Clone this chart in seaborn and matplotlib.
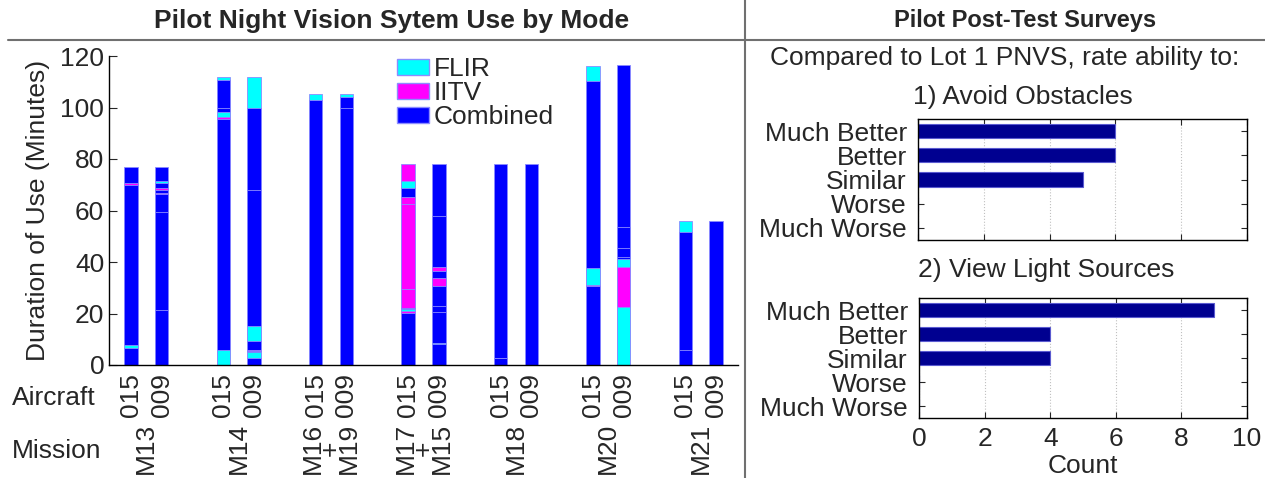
import seaborn as sns
import matplotlib.pyplot as plt
import matplotlib.transforms as mtransforms
from matplotlib.patches import Patch
from matplotlib.lines import Line2D
import pandas as pd

sns.set_style("white")
plt.rcParams['font.family'] = ['Liberation Sans', 'DejaVu Sans']
plt.rcParams['axes.edgecolor'] = 'black'
plt.rcParams['axes.linewidth'] = 1.0

# ---- left chart data: night vision mode use per sortie ----
modes = ['FLIR', 'IITV', 'Combined']
mode_colors = {'FLIR': '#00FFFF', 'IITV': '#FF00FF', 'Combined': '#0000FF'}

missions = ['M13', 'M14', 'M16\n+\nM19', 'M17\n+\nM15', 'M18', 'M20', 'M21']
aircraft = ['015', '009']

# segments of each bar from the bottom up: (mode, minutes)
m13_015 = [('Combined', 6.7), ('FLIR', 0.9), ('Combined', 62.3), ('IITV', 0.7), ('Combined', 6.4)]
m13_009 = [('Combined', 21.4), ('Combined', 37.9), ('Combined', 7.0), ('IITV', 0.5), ('Combined', 1.3),
           ('IITV', 0.5), ('Combined', 1.9), ('FLIR', 0.8), ('Combined', 5.5)]
m14_015 = [('FLIR', 5.8), ('Combined', 89.9), ('IITV', 0.5), ('FLIR', 1.9), ('Combined', 1.8),
           ('Combined', 10.8), ('FLIR', 1.3)]
m14_009 = [('Combined', 2.6), ('FLIR', 2.3), ('Combined', 0.5), ('IITV', 0.4), ('Combined', 3.6),
           ('FLIR', 5.7), ('Combined', 52.9), ('Combined', 31.7), ('FLIR', 12.3)]
m16_015 = [('Combined', 102.9), ('FLIR', 2.3)]
m19_009 = [('Combined', 99.7), ('Combined', 4.5), ('FLIR', 1.0)]
m17_015 = [('Combined', 20.3), ('IITV', 0.7), ('FLIR', 0.6), ('Combined', 0.7), ('IITV', 7.1),
           ('IITV', 33.3), ('IITV', 2.7), ('Combined', 3.5), ('FLIR', 2.6), ('IITV', 6.4)]
m15_009 = [('Combined', 8.0), ('FLIR', 0.5), ('Combined', 12.2), ('Combined', 2.2), ('Combined', 7.8),
           ('IITV', 2.9), ('Combined', 3.0), ('IITV', 1.6), ('Combined', 19.7), ('Combined', 20.0)]
m18_015 = [('Combined', 2.6), ('IITV', 0.3), ('Combined', 75.2)]
m18_009 = [('Combined', 78.1)]
m20_015 = [('Combined', 30.7), ('IITV', 0.4), ('FLIR', 6.4), ('Combined', 72.9), ('FLIR', 5.8)]
m20_009 = [('FLIR', 22.6), ('IITV', 15.3), ('FLIR', 3.3), ('Combined', 0.9), ('Combined', 3.5),
           ('Combined', 8.1), ('Combined', 62.8)]
m21_015 = [('Combined', 5.8), ('Combined', 45.7), ('FLIR', 4.4)]
m21_009 = [('Combined', 55.9)]

bar_segments = [m13_015, m13_009, m14_015, m14_009, m16_015, m19_009, m17_015, m15_009,
                m18_015, m18_009, m20_015, m20_009, m21_015, m21_009]

# ---- right chart data: survey counts ----
ratings = ['Much Better', 'Better', 'Similar', 'Worse', 'Much Worse']
avoid_counts = [6, 6, 5, 0, 0]
light_counts = [9, 4, 4, 0, 0]

# slots: two bars per mission with an empty slot between missions
slot_order = []
for g in range(len(missions)):
    slot_order += [f'{g}-{a}' for a in range(len(aircraft))]
    if g < len(missions) - 1:
        slot_order.append(f'gap{g}')

rows = []
for i, segs in enumerate(bar_segments):
    g, a = divmod(i, 2)
    top = 0
    tops = []
    for mode, dur in segs:
        top += dur
        tops.append((mode, top))
    # rank 0 = highest segment, drawn first, shorter ones drawn over it
    for rank, (mode, t) in enumerate(reversed(tops)):
        rows.append({'slot': f'{g}-{a}', 'mode': mode, 'top': t, 'rank': rank})
df = pd.DataFrame(rows)

fig = plt.figure(figsize=(12.65, 4.78), dpi=100)
W, H = 1265, 478

ax = fig.add_axes([109 / W, 1 - 365 / H, (738 - 109) / W, (365 - 56) / H])
for r in sorted(df['rank'].unique()):
    sns.barplot(data=df[df['rank'] == r], x='slot', y='top', hue='mode', order=slot_order,
                hue_order=modes, palette=mode_colors, dodge=False, width=0.44, saturation=1,
                errorbar=None, legend=False, edgecolor='#8c8cff', linewidth=0.6, ax=ax)

ax.set_ylim(0, 120)
ax.set_yticks(range(0, 121, 20))
ax.set_xlim(-0.71, 19.71)
bar_pos = [slot_order.index(f'{g}-{a}') for g in range(len(missions)) for a in range(2)]
ax.set_xticks(bar_pos)
ax.set_xticklabels(aircraft * len(missions), rotation=90, fontsize=19)
ax.tick_params(axis='x', length=0, pad=6)
ax.tick_params(axis='y', direction='in', length=6, labelsize=19, pad=3.5, left=True)
ax.spines['top'].set_visible(False)
ax.spines['right'].set_visible(False)
ax.set_xlabel('')
ax.set_ylabel('Duration of Use (Minutes)', fontsize=19)
ax.yaxis.set_label_coords(-0.094, 0.5)

trans = mtransforms.blended_transform_factory(ax.transData, fig.transFigure)
for g, m in enumerate(missions):
    ax.text(g * 3 + 0.5, 1 - 423 / H, m, transform=trans, rotation=90, ha='center', va='top',
            fontsize=19, linespacing=0.68, multialignment='center')

fig.text(12 / W, 1 - 398 / H, 'Aircraft', ha='left', va='center', fontsize=19)
fig.text(12 / W, 1 - 451 / H, 'Mission', ha='left', va='center', fontsize=19)

handles = [Patch(facecolor=mode_colors[m], edgecolor='#8c8cff', label=m) for m in modes]
ax.legend(handles=handles, loc='upper left', bbox_to_anchor=(397 / W, 1 - 57 / H),
          bbox_transform=fig.transFigure, frameon=False, fontsize=19, handlelength=1.2,
          handleheight=0.55, handletextpad=0.2, labelspacing=0.0, borderpad=0, borderaxespad=0)

# ---- right charts ----
ax1 = fig.add_axes([918 / W, 1 - 240 / H, 329 / W, 121 / H])
ax2 = fig.add_axes([919 / W, 1 - 418 / H, 328 / W, 120 / H])
for a_, counts in [(ax1, avoid_counts), (ax2, light_counts)]:
    sns.barplot(x=counts, y=ratings, orient='y', color='#000090', saturation=1, width=0.58,
                edgecolor='#5a5ad0', linewidth=0.8, errorbar=None, ax=a_)
    a_.set_xlim(0, 10)
    a_.set_xticks(range(0, 11, 2))
    a_.set_ylabel('')
    a_.grid(axis='x', linestyle=':', color='#c0c0c0', linewidth=0.8)
    a_.set_axisbelow(True)
    for s in a_.spines.values():
        s.set_visible(True)
        s.set_color('black')
    a_.tick_params(axis='both', direction='in', length=4, top=True, right=True,
                   left=True, bottom=True, labelsize=19)
    a_.tick_params(axis='y', pad=8)
    a_.tick_params(axis='x', pad=6.5)

ax1.set_xticklabels([])
ax1.set_xlabel('')
ax2.set_xlabel('Count', fontsize=19, labelpad=2)

fig.text(392 / W, 1 - 21 / H, 'Pilot Night Vision Sytem Use by Mode', ha='center', va='center',
         fontsize=19, fontweight='bold')
fig.text(1025 / W, 1 - 21 / H, 'Pilot Post-Test Surveys', ha='center', va='center',
         fontsize=17, fontweight='bold')
fig.text(1005 / W, 1 - 58 / H, 'Compared to Lot 1 PNVS, rate ability to:', ha='center',
         va='center', fontsize=19)
fig.text(913 / W, 1 - 97 / H, '1) Avoid Obstacles', ha='left', va='center', fontsize=19)
fig.text(918 / W, 1 - 270 / H, '2) View Light Sources', ha='left', va='center', fontsize=19)

fig.add_artist(Line2D([8 / W, 1], [1 - 40 / H] * 2, color='#707070', linewidth=1.5,
                      transform=fig.transFigure))
fig.add_artist(Line2D([745 / W] * 2, [0, 1], color='#707070', linewidth=1.5,
                      transform=fig.transFigure))

fig.savefig('out.png', dpi=100)
plt.close(fig)
